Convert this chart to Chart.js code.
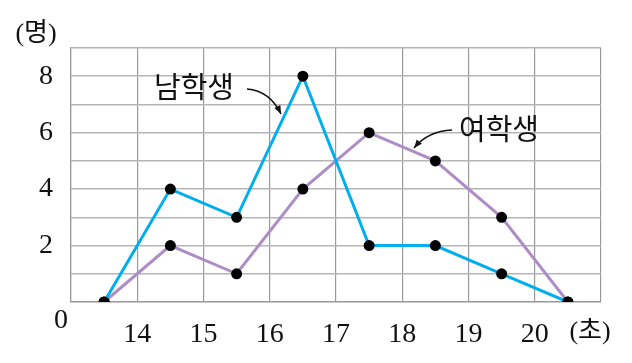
<!DOCTYPE html>
<html>
<head>
<meta charset="utf-8">
<script src="https://cdn.jsdelivr.net/npm/chart.js@4/dist/chart.umd.min.js"></script>
<style>
  html, body { margin: 0; padding: 0; background: #fff; }
  canvas { display: block; }
</style>
</head>
<body>
<canvas id="chart" width="632" height="363"></canvas>
<script>
// 계급값 (초)
const classMarks = [13.5, 14.5, 15.5, 16.5, 17.5, 18.5, 19.5, 20.5];
const boysCounts = [0, 4, 3, 8, 2, 2, 1, 0];
const girlsCounts = [0, 2, 1, 4, 6, 5, 3, 0];
const xTickLabels = [14, 15, 16, 17, 18, 19, 20];
const yTickLabels = [2, 4, 6, 8];

const serif = '"Liberation Serif", "DejaVu Serif", serif';
const korean = '"Liberation Serif", "Noto Sans CJK KR", sans-serif';

function toPoints(values) {
  return classMarks.map((x, i) => ({x: x, y: values[i]}));
}

// 축 제목, 원점, 화살표 주석
const annotations = {
  id: 'annotations',
  afterDraw(chart) {
    const ctx = chart.ctx;
    const xs = chart.scales.x;
    const ys = chart.scales.y;
    const px = v => xs.getPixelForValue(v);
    const py = v => ys.getPixelForValue(v);

    ctx.save();
    ctx.fillStyle = '#111';
    ctx.textAlign = 'center';
    ctx.textBaseline = 'middle';

    ctx.font = '28px ' + serif;
    ctx.fillText('0', px(13) - 10, py(0) + 19);

    ctx.font = '26px ' + korean;
    ctx.fillText('(명)', 36, 34);
    ctx.fillText('(초)', 590, 332);

    ctx.font = '29px ' + korean;
    ctx.fillText('남학생', 194, 90);
    ctx.fillText('여학생', 499, 132);

    function arrow(x0, y0, cx, cy, x1, y1) {
      ctx.strokeStyle = '#111';
      ctx.lineWidth = 1.6;
      ctx.beginPath();
      ctx.moveTo(x0, y0);
      ctx.quadraticCurveTo(cx, cy, x1, y1);
      ctx.stroke();
      const a = Math.atan2(y1 - cy, x1 - cx);
      ctx.beginPath();
      ctx.moveTo(x1, y1);
      ctx.lineTo(x1 - 9 * Math.cos(a - 0.38), y1 - 9 * Math.sin(a - 0.38));
      ctx.lineTo(x1 - 9 * Math.cos(a + 0.38), y1 - 9 * Math.sin(a + 0.38));
      ctx.closePath();
      ctx.fillStyle = '#111';
      ctx.fill();
    }
    arrow(247, 89, 270, 91, 281, 114);
    arrow(452, 130, 428, 131, 414, 148);

    ctx.restore();
  }
};

new Chart(document.getElementById('chart'), {
  type: 'line',
  data: {
    datasets: [
      {
        label: '남학생',
        data: toPoints(boysCounts),
        borderColor: '#00aeef',
        borderWidth: 3,
        pointBackgroundColor: '#000',
        pointBorderColor: '#000',
        pointRadius: 4,
        tension: 0
      },
      {
        label: '여학생',
        data: toPoints(girlsCounts),
        borderColor: '#ae8cc6',
        borderWidth: 3,
        pointBackgroundColor: '#000',
        pointBorderColor: '#000',
        pointRadius: 4,
        tension: 0
      }
    ]
  },
  options: {
    responsive: false,
    animation: false,
    devicePixelRatio: 1,
    layout: {padding: {left: 0, right: 31, top: 48, bottom: 0}},
    plugins: {legend: {display: false}, tooltip: {enabled: false}},
    scales: {
      x: {
        type: 'linear',
        min: 13,
        max: 21,
        afterFit: s => { s.height = 61; },
        grid: {color: '#9a9a9a', lineWidth: 1.2, drawTicks: false},
        border: {color: '#9a9a9a', width: 1.2},
        ticks: {
          stepSize: 1,
          padding: 16,
          maxRotation: 0,
          autoSkip: false,
          color: '#111',
          font: {family: serif, size: 28},
          callback: v => xTickLabels.includes(v) ? String(v) : ''
        }
      },
      y: {
        min: 0,
        max: 9,
        afterFit: s => { s.width = 71; },
        grid: {color: '#b5b5b5', lineWidth: 1.6, drawTicks: false},
        border: {color: '#9a9a9a', width: 1.2},
        ticks: {
          stepSize: 1,
          padding: 18,
          autoSkip: false,
          color: '#111',
          font: {family: serif, size: 28},
          callback: v => yTickLabels.includes(v) ? String(v) : ''
        }
      }
    }
  },
  plugins: [annotations]
});
</script>
</body>
</html>
